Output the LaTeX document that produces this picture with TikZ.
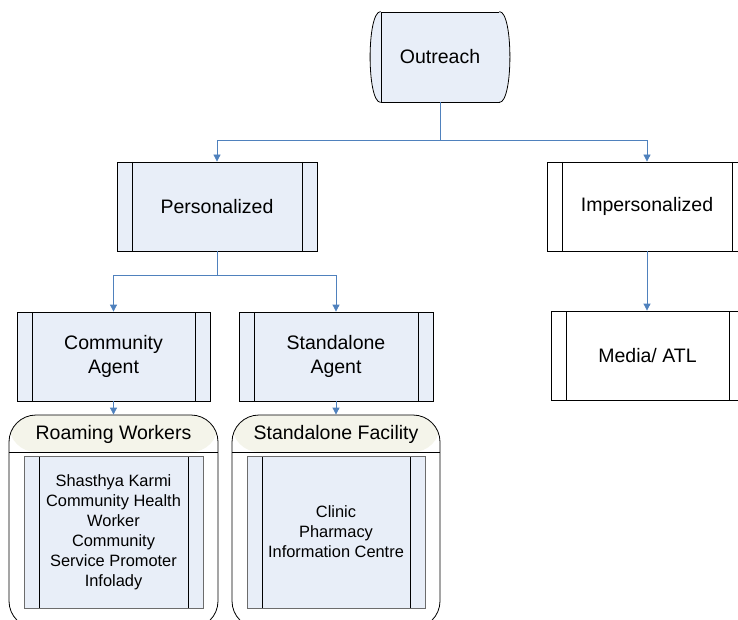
\documentclass[tikz,border=0pt]{standalone}
\usepackage{fontspec}
\setmainfont{Liberation Sans}
\usepackage{tikz}
\usetikzlibrary{positioning, calc, arrows.meta}

\definecolor{boxfill}{HTML}{E8EEF8}
\definecolor{headfill}{HTML}{F4F4EA}
\definecolor{linkblue}{HTML}{4F81BD}

\begin{document}
\begin{tikzpicture}[x=1pt, y=-1pt,
  every node/.style={inner sep=0pt, align=center, font=\fontsize{19.5}{24}\selectfont},
  proc/.style={draw, line width=0.8pt, fill=boxfill, minimum width=200pt, minimum height=89pt,
    path picture={\draw[black, line width=0.8pt] ([xshift=15pt]path picture bounding box.north west) -- ([xshift=15pt]path picture bounding box.south west)
      ([xshift=-15pt]path picture bounding box.north east) -- ([xshift=-15pt]path picture bounding box.south east);}},
  inproc/.style={proc, draw=gray!85!black, line width=1pt, font=\fontsize{16.4}{20}\selectfont},
  group/.style={draw, line width=0.8pt, rounded corners=27pt, minimum width=209pt, minimum height=213pt,
    path picture={\fill[headfill] (path picture bounding box.north west) rectangle ([yshift=-37pt]path picture bounding box.north east);
      \draw[line width=0.8pt] ([yshift=-37pt]path picture bounding box.north west) -- ([yshift=-37pt]path picture bounding box.north east);}},
  link/.style={draw=linkblue, line width=0.8pt, -{Triangle[length=7pt, width=7pt]}}]
  \useasboundingbox (0,0) rectangle (738,620);
  \clip (0,0) rectangle (738,620);
  \node[draw, line width=0.8pt, fill=boxfill, minimum width=118pt, minimum height=90pt] (out) at (440,57) {Outreach};
  \draw[line width=0.8pt, fill=boxfill] (out.north west) .. controls +(-14,0) and +(-14,0) .. (out.south west);
  \draw[line width=0.8pt, fill=boxfill] (out.north east) .. controls +(14,0) and +(14,0) .. (out.south east);
  \node[proc] (pers) at (217,206.5) {Personalized};
  \node[proc, fill=white] (imp) at (647,206.5) {Impersonalized};
  \node[proc, minimum width=193pt] (comm) at (113.5,356.5) {Community\\Agent};
  \node[proc, minimum width=194pt] (stand) at (336,356.5) {Standalone\\Agent};
  \node[proc, fill=white, minimum width=193pt] (media) at (647.5,355.5) {Media/ ATL};
  \node[group] (rw) at (113.5,521.5) {};
  \node (rwh) at (113.5,434) {Roaming Workers};
  \node[inproc, minimum width=179pt, minimum height=152pt] (rwin) at (113.5,532)
    {Shasthya Karmi\\Community Health\\Worker\\Community\\Service Promoter\\Infolady};
  \node[group, minimum width=208pt] (sf) at (336,521.5) {};
  \node (sfh) at (336,434) {Standalone Facility};
  \node[inproc, minimum width=178pt, minimum height=152pt] (sfin) at (336,532)
    {Clinic\\Pharmacy\\Information Centre};
  \coordinate (j0) at (440,140);
  \coordinate (j1) at (217,275);
  \draw[link, -] (out.south) -- (j0);
  \draw[link] (j0) -| (pers.north);
  \draw[link] (j0) -| (imp.north);
  \draw[link, -] (pers.south) -- (j1);
  \draw[link] (j1) -| (comm.north);
  \draw[link] (j1) -| (stand.north);
  \draw[link] (imp.south) -- (imp.south |- media.north);
  \draw[link] (comm.south) -- (rw.north);
  \draw[link] (stand.south) -- (sf.north);
\end{tikzpicture}
\end{document}
